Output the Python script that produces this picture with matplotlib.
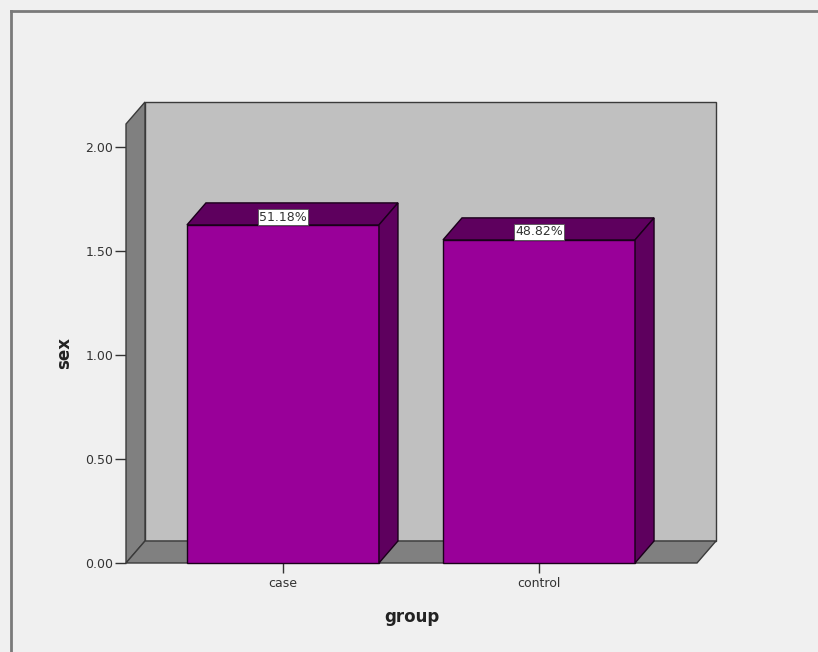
import numpy as np
import matplotlib.pyplot as plt
from matplotlib.patches import Polygon, Rectangle
from matplotlib.lines import Line2D

groups = ['case', 'control']
sex_means = [1.625, 1.553]
pct_labels = ['51.18%', '48.82%']
yticks = [0.0, 0.5, 1.0, 1.5, 2.0]

W, H = 818, 652
fig = plt.figure(figsize=(W / 100, H / 100), dpi=100)
fig.patch.set_facecolor('#f0f0f0')

# front face of the 3d box, in pixels: x 126..697, y 124..563
ax = fig.add_axes([126 / W, (H - 563) / H, 571 / W, 439 / H])
x0, x1 = -0.613, 1.617
ymax = 2.11
ax.set_xlim(x0, x1)
ax.set_ylim(0, ymax)
ax.patch.set_visible(False)
for s in ax.spines.values():
    s.set_visible(False)

# depth offset of the box (about 19px right, 22px up)
dx = 19 / 571 * (x1 - x0)
dy = 22 / 439 * ymax

wall_edge = '#3a3a3a'
# back wall
ax.add_patch(Polygon([(x0 + dx, dy), (x1 + dx, dy), (x1 + dx, ymax + dy), (x0 + dx, ymax + dy)],
                     closed=True, fc='#c0c0c0', ec=wall_edge, lw=1, clip_on=False, zorder=1))
# left side wall
ax.add_patch(Polygon([(x0, 0), (x0, ymax), (x0 + dx, ymax + dy), (x0 + dx, dy)],
                     closed=True, fc='#808080', ec=wall_edge, lw=1, clip_on=False, zorder=2))
# floor
ax.add_patch(Polygon([(x0, 0), (x1, 0), (x1 + dx, dy), (x0 + dx, dy)],
                     closed=True, fc='#808080', ec=wall_edge, lw=1, clip_on=False, zorder=2))

front_col = '#990099'
dark_col = '#5e005e'
bw = 0.75
xs = np.arange(len(groups))
for x, v, lab in zip(xs, sex_means, pct_labels):
    l, r = x - bw / 2, x + bw / 2
    ax.add_patch(Rectangle((l, 0), bw, v, fc=front_col, ec='#1a001a', lw=1,
                           clip_on=False, zorder=3))
    ax.add_patch(Polygon([(l, v), (r, v), (r + dx, v + dy), (l + dx, v + dy)],
                         closed=True, fc=dark_col, ec='#1a001a', lw=1, clip_on=False, zorder=3))
    ax.add_patch(Polygon([(r, 0), (r + dx, dy), (r + dx, v + dy), (r, v)],
                         closed=True, fc=dark_col, ec='#1a001a', lw=1, clip_on=False, zorder=3))
    ax.annotate(lab, (x, v), xytext=(0, 1), textcoords='offset points',
                ha='center', va='bottom', fontsize=9, color='#333333', zorder=5,
                bbox=dict(boxstyle='square,pad=0.1', fc='white', ec='#555555', lw=0.6))

ax.set_yticks(yticks)
ax.set_yticklabels(['%.2f' % t for t in yticks])
ax.set_xticks(xs)
ax.set_xticklabels(groups)
ax.tick_params(axis='y', length=8, width=1, color='#333333', labelcolor='#333333',
               labelsize=9, pad=1)
ax.tick_params(axis='x', length=7, width=1, color='#333333', labelcolor='#333333',
               labelsize=9, pad=3)

ax.set_ylabel('sex', fontsize=12, fontweight='bold', color='#222222')
ax.yaxis.set_label_coords(-0.093, 0.478)
ax.set_xlabel('group', fontsize=12, fontweight='bold', color='#222222')
ax.xaxis.set_label_coords(0.501, -0.123)
ax.xaxis.label.set_va('center')

# outer frame (top and left edges)
fig.add_artist(Line2D([10.5 / W, 10.5 / W], [0, 1 - 10.5 / H], transform=fig.transFigure,
                      color='#7a7a7a', lw=2))
fig.add_artist(Line2D([10.5 / W, 1], [1 - 10.5 / H, 1 - 10.5 / H], transform=fig.transFigure,
                      color='#7a7a7a', lw=2))

fig.savefig('out.png', dpi=100, facecolor=fig.get_facecolor())
